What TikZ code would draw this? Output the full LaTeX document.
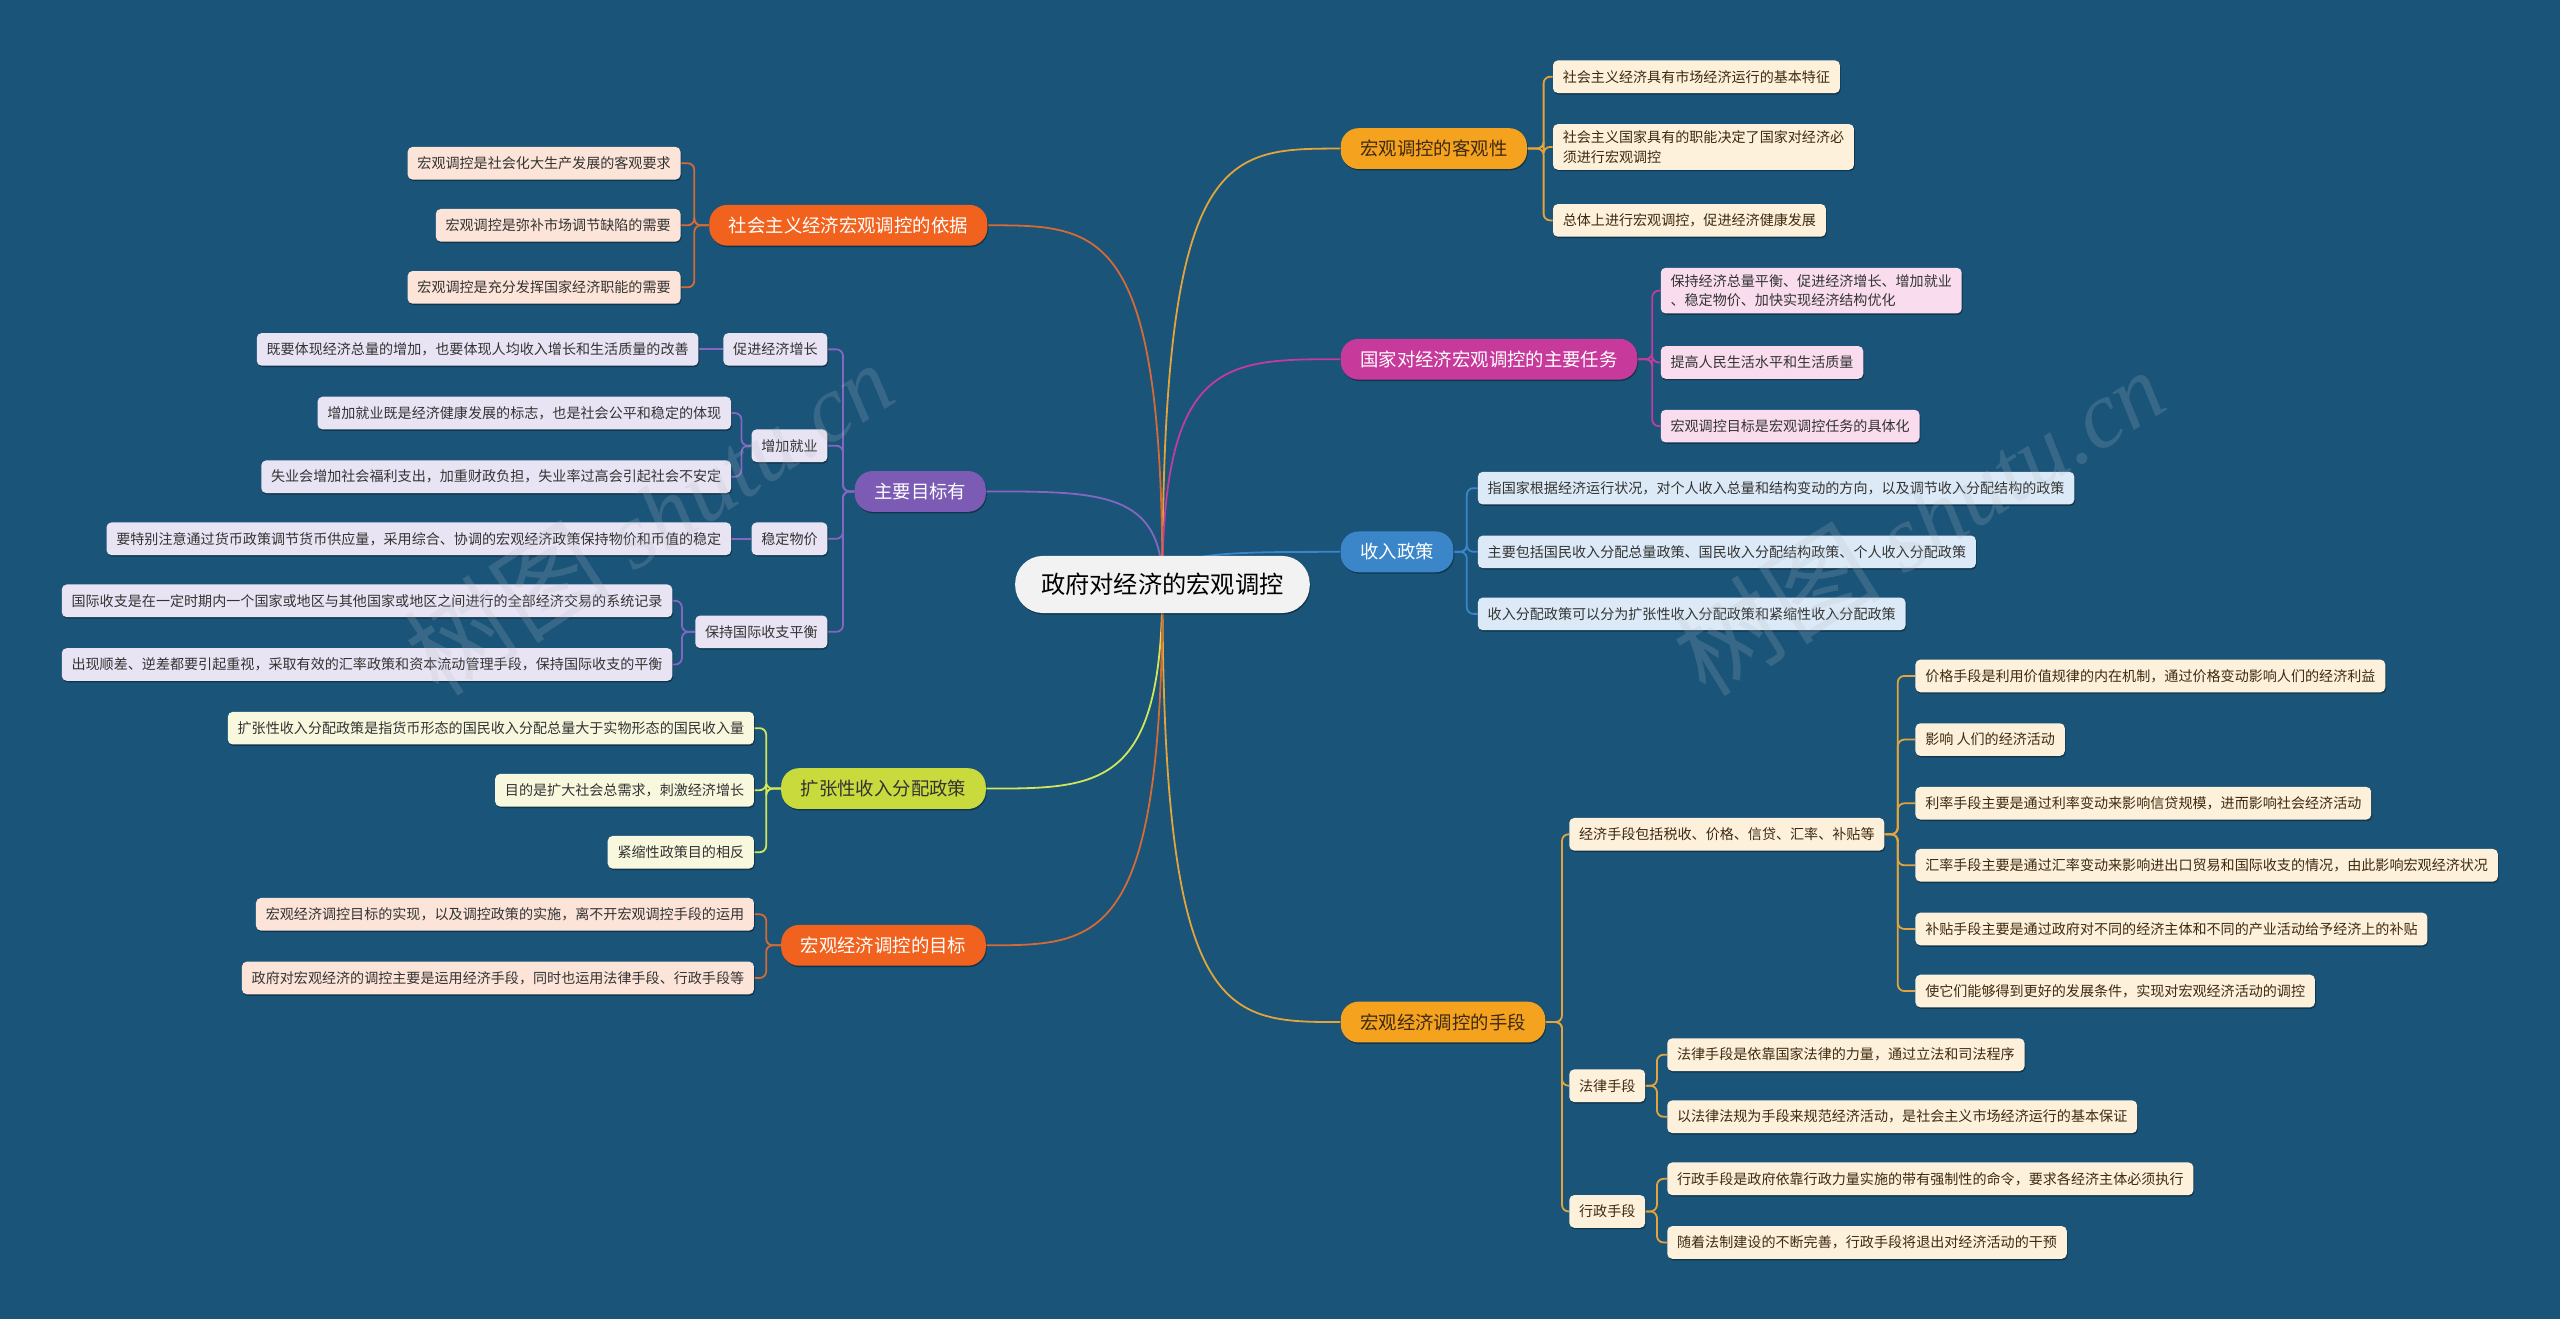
\documentclass[tikz,border=0pt]{standalone}
\usepackage{fontspec}
\setmainfont{Noto Sans CJK SC}
\newfontfamily\wmfont{Liberation Serif}
\usetikzlibrary{backgrounds,shadows}
\definecolor{bg}{HTML}{1A5478}
\definecolor{cA}{HTML}{F5A21F}\definecolor{lA}{HTML}{FDF1DC}\definecolor{eA}{HTML}{E3A43B}
\definecolor{cB}{HTML}{F0621E}\definecolor{lB}{HTML}{FCE4D8}\definecolor{eB}{HTML}{D46A35}
\definecolor{cC}{HTML}{C7399A}\definecolor{lC}{HTML}{F9DDEF}\definecolor{eC}{HTML}{C03C9E}
\definecolor{cD}{HTML}{3A86C9}\definecolor{lD}{HTML}{DCEAF7}\definecolor{eD}{HTML}{3A86C9}
\definecolor{cE}{HTML}{7B5BB4}\definecolor{lE}{HTML}{E9E4F4}\definecolor{eE}{HTML}{8567C2}
\definecolor{cF}{HTML}{C9DA3C}\definecolor{lF}{HTML}{F8F8DF}\definecolor{eF}{HTML}{D2E65A}
\definecolor{rootfill}{HTML}{F2F2F2}
\definecolor{txt}{HTML}{333333}
\definecolor{txtA}{HTML}{3E2A10}
\definecolor{wmc}{HTML}{B4BCC4}
\tikzset{
  shad/.style={drop shadow={shadow xshift=0.5bp, shadow yshift=-0.9bp, opacity=0.35, fill=black}},
  leaf/.style={shad, font=\fontsize{8.65}{12}\selectfont, inner xsep=6bp, inner ysep=4bp,
    minimum height=20bp, rounded corners=3bp, align=left, text=txt},
  leafA/.style={leaf, fill=lA, text=txtA},
  leafB/.style={leaf, fill=lB},
  leafC/.style={leaf, fill=lC},
  leafD/.style={leaf, fill=lD},
  leafE/.style={leaf, fill=lE},
  leafF/.style={leaf, fill=lF},
  mainbase/.style={shad, font=\fontsize{11.3}{13}\selectfont, inner xsep=12bp, inner ysep=3bp,
    minimum height=25bp, rounded corners=11bp, text=white},
  mainA/.style={mainbase, fill=cA, text=txtA},
  mainB/.style={mainbase, fill=cB},
  mainC/.style={mainbase, fill=cC},
  mainD/.style={mainbase, fill=cD},
  mainE/.style={mainbase, fill=cE},
  mainF/.style={mainbase, fill=cF, text=txt},
  rootnode/.style={shad, font=\fontsize{14.9}{17}\selectfont, inner xsep=16bp, inner ysep=4bp,
    minimum height=35bp, rounded corners=17bp, fill=rootfill, text=black},
  ln/.style={line width=1.1bp},
  brA/.style={ln, draw=eA, rounded corners=4bp},
  brB/.style={ln, draw=eB, rounded corners=4bp},
  brC/.style={ln, draw=eC, rounded corners=4bp},
  brD/.style={ln, draw=eD, rounded corners=4bp},
  brE/.style={ln, draw=eE, rounded corners=4bp},
  brF/.style={ln, draw=eF, rounded corners=4bp},
  wm/.style={text opacity=0.2, text=wmc, font=\fontsize{64}{64}\selectfont, inner sep=0pt}
}
\begin{document}
\begin{tikzpicture}[x=1bp,y=-1bp]
\begin{scope}[on background layer]
  \fill[bg] (0,0) rectangle (1568,808);
\end{scope}
\useasboundingbox (0,0) rectangle (1568,808);

% root
\node[rootnode] (root) at (712,358) {政府对经济的宏观调控};

% ---- right side ----
\node[mainA, anchor=west] (b1) at (821,91) {宏观调控的客观性};
\node[leafA, anchor=west] (b1c1) at (951,47) {社会主义经济具有市场经济运行的基本特征};
\node[leafA, anchor=west] (b1c2) at (951,90) {社会主义国家具有的职能决定了国家对经济必\\须进行宏观调控};
\node[leafA, anchor=west] (b1c3) at (951,135) {总体上进行宏观调控，促进经济健康发展};

\node[mainC, anchor=west] (b2) at (821,220) {国家对经济宏观调控的主要任务};
\node[leafC, anchor=west] (b2c1) at (1017,178) {保持经济总量平衡、促进经济增长、增加就业\\、稳定物价、加快实现经济结构优化};
\node[leafC, anchor=west] (b2c2) at (1017,222) {提高人民生活水平和生活质量};
\node[leafC, anchor=west] (b2c3) at (1017,261) {宏观调控目标是宏观调控任务的具体化};

\node[mainD, anchor=west] (b3) at (821,338) {收入政策};
\node[leafD, anchor=west] (b3c1) at (905,299) {指国家根据经济运行状况，对个人收入总量和结构变动的方向，以及调节收入分配结构的政策};
\node[leafD, anchor=west] (b3c2) at (905,338) {主要包括国民收入分配总量政策、国民收入分配结构政策、个人收入分配政策};
\node[leafD, anchor=west] (b3c3) at (905,376) {收入分配政策可以分为扩张性收入分配政策和紧缩性收入分配政策};

\node[mainA, anchor=west] (b4) at (821,626) {宏观经济调控的手段};
\node[leafA, anchor=west] (b4a) at (961,511) {经济手段包括税收、价格、信贷、汇率、补贴等};
\node[leafA, anchor=west] (b4a1) at (1173,414) {价格手段是利用价值规律的内在机制，通过价格变动影响人们的经济利益};
\node[leafA, anchor=west] (b4a2) at (1173,453) {影响 人们的经济活动};
\node[leafA, anchor=west] (b4a3) at (1173,492) {利率手段主要是通过利率变动来影响信贷规模，进而影响社会经济活动};
\node[leafA, anchor=west] (b4a4) at (1173,530) {汇率手段主要是通过汇率变动来影响进出口贸易和国际收支的情况，由此影响宏观经济状况};
\node[leafA, anchor=west] (b4a5) at (1173,569) {补贴手段主要是通过政府对不同的经济主体和不同的产业活动给予经济上的补贴};
\node[leafA, anchor=west] (b4a6) at (1173,607) {使它们能够得到更好的发展条件，实现对宏观经济活动的调控};
\node[leafA, anchor=west] (b4b) at (961,665) {法律手段};
\node[leafA, anchor=west] (b4b1) at (1021,646) {法律手段是依靠国家法律的力量，通过立法和司法程序};
\node[leafA, anchor=west] (b4b2) at (1021,684) {以法律法规为手段来规范经济活动，是社会主义市场经济运行的基本保证};
\node[leafA, anchor=west] (b4c) at (961,742) {行政手段};
\node[leafA, anchor=west] (b4c1) at (1021,722) {行政手段是政府依靠行政力量实施的带有强制性的命令，要求各经济主体必须执行};
\node[leafA, anchor=west] (b4c2) at (1021,761) {随着法制建设的不断完善，行政手段将退出对经济活动的干预};

% ---- left side ----
\node[mainB, anchor=east] (b5) at (605,138) {社会主义经济宏观调控的依据};
\node[leafB, anchor=east] (b5c1) at (417,100) {宏观调控是社会化大生产发展的客观要求};
\node[leafB, anchor=east] (b5c2) at (417,138) {宏观调控是弥补市场调节缺陷的需要};
\node[leafB, anchor=east] (b5c3) at (417,176) {宏观调控是充分发挥国家经济职能的需要};

\node[mainE, anchor=east] (b6) at (604,301) {主要目标有};
\node[leafE, anchor=east] (b6a) at (507,214) {促进经济增长};
\node[leafE, anchor=east] (b6a1) at (428,214) {既要体现经济总量的增加，也要体现人均收入增长和生活质量的改善};
\node[leafE, anchor=east] (b6b) at (507,273) {增加就业};
\node[leafE, anchor=east] (b6b1) at (448,253) {增加就业既是经济健康发展的标志，也是社会公平和稳定的体现};
\node[leafE, anchor=east] (b6b2) at (448,292) {失业会增加社会福利支出，加重财政负担，失业率过高会引起社会不安定};
\node[leafE, anchor=east] (b6c) at (507,330) {稳定物价};
\node[leafE, anchor=east] (b6c1) at (448,330) {要特别注意通过货币政策调节货币供应量，采用综合、协调的宏观经济政策保持物价和币值的稳定};
\node[leafE, anchor=east] (b6d) at (507,387) {保持国际收支平衡};
\node[leafE, anchor=east] (b6d1) at (412,368) {国际收支是在一定时期内一个国家或地区与其他国家或地区之间进行的全部经济交易的系统记录};
\node[leafE, anchor=east] (b6d2) at (412,407) {出现顺差、逆差都要引起重视，采取有效的汇率政策和资本流动管理手段，保持国际收支的平衡};

\node[mainF, anchor=east] (b7) at (604,483) {扩张性收入分配政策};
\node[leafF, anchor=east] (b7c1) at (462,446) {扩张性收入分配政策是指货币形态的国民收入分配总量大于实物形态的国民收入量};
\node[leafF, anchor=east] (b7c2) at (462,484) {目的是扩大社会总需求，刺激经济增长};
\node[leafF, anchor=east] (b7c3) at (462,522) {紧缩性政策目的相反};

\node[mainB, anchor=east] (b8) at (604,579) {宏观经济调控的目标};
\node[leafB, anchor=east] (b8c1) at (462,560) {宏观经济调控目标的实现，以及调控政策的实施，离不开宏观调控手段的运用};
\node[leafB, anchor=east] (b8c2) at (462,599) {政府对宏观经济的调控主要是运用经济手段，同时也运用法律手段、行政手段等};

% ---- connectors ----
\begin{scope}[on background layer]
  \draw[ln, draw=eA] (root.center) .. controls (712,91) and (750,91) .. (b1.west);
  \draw[ln, draw=eC] (root.center) .. controls (712,220) and (750,220) .. (b2.west);
  \draw[ln, draw=eD] (root.center) .. controls (712,338) and (750,338) .. (b3.west);
  \draw[ln, draw=eA] (root.center) .. controls (712,626) and (750,626) .. (b4.west);
  \draw[ln, draw=eB] (root.center) .. controls (712,138) and (674,138) .. (b5.east);
  \draw[ln, draw=eE] (root.center) .. controls (712,301) and (674,301) .. (b6.east);
  \draw[ln, draw=eF] (root.center) .. controls (712,483) and (674,483) .. (b7.east);
  \draw[ln, draw=eB] (root.center) .. controls (712,579) and (674,579) .. (b8.east);

  \foreach \c in {b1c1,b1c2,b1c3} \draw[brA] (b1.east) -- ++(10,0) |- (\c.west);
  \foreach \c in {b2c1,b2c2,b2c3} \draw[brC] (b2.east) -- ++(9,0) |- (\c.west);
  \foreach \c in {b3c1,b3c2,b3c3} \draw[brD] (b3.east) -- ++(8,0) |- (\c.west);
  \foreach \c in {b4a,b4b,b4c} \draw[brA] (b4.east) -- ++(10,0) |- (\c.west);
  \foreach \c in {b4a1,b4a2,b4a3,b4a4,b4a5,b4a6} \draw[brA] (b4a.east) -- ++(8,0) |- (\c.west);
  \foreach \c in {b4b1,b4b2} \draw[brA] (b4b.east) -- ++(7,0) |- (\c.west);
  \foreach \c in {b4c1,b4c2} \draw[brA] (b4c.east) -- ++(7,0) |- (\c.west);

  \foreach \c in {b5c1,b5c2,b5c3} \draw[brB] (b5.west) -- ++(-9,0) |- (\c.east);
  \foreach \c in {b6a,b6b,b6c,b6d} \draw[brE] (b6.west) -- ++(-7,0) |- (\c.east);
  \draw[brE] (b6a.west) -- (b6a1.east);
  \foreach \c in {b6b1,b6b2} \draw[brE] (b6b.west) -- ++(-6,0) |- (\c.east);
  \draw[brE] (b6c.west) -- (b6c1.east);
  \foreach \c in {b6d1,b6d2} \draw[brE] (b6d.west) -- ++(-8,0) |- (\c.east);
  \foreach \c in {b7c1,b7c2,b7c3} \draw[brF] (b7.west) -- ++(-9,0) |- (\c.east);
  \foreach \c in {b8c1,b8c2} \draw[brB] (b8.west) -- ++(-9,0) |- (\c.east);
\end{scope}

% watermarks
\node[wm, rotate=33] (wm1) at (397,316) {树图 {\wmfont\itshape\fontsize{58}{58}\selectfont shutu.cn}};
\node[wm, rotate=32] (wm2) at (1175,318) {树图 {\wmfont\itshape\fontsize{58}{58}\selectfont shutu.cn}};
\end{tikzpicture}
\end{document}
